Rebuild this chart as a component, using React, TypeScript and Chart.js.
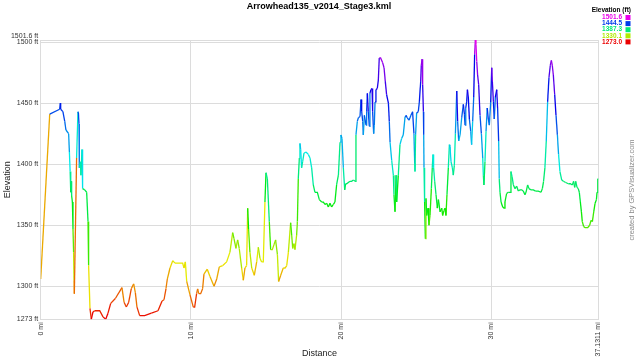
import React, { useEffect, useRef } from "react";
import { Chart, registerables } from "chart.js";

Chart.register(...registerables);

const TITLE = "Arrowhead135_v2014_Stage3.kml";
const CREDIT = "created by GPSVisualizer.com";
const LEGEND_TITLE = "Elevation (ft)";

const distanceMi = [
  0, 0.6, 1.26, 1.31, 1.33, 1.48, 1.6, 1.68, 1.86, 1.91, 1.96, 2.0, 2.04, 2.06, 2.11, 2.15, 2.19, 2.22, 2.24,
  2.39, 2.48, 2.51, 2.55, 2.57, 2.64, 2.68, 2.75, 2.79, 2.93, 3.06, 3.15, 3.19, 3.28, 3.37, 3.48, 3.59, 3.93,
  4.15, 4.33, 4.48, 4.66, 4.97, 5.41, 5.55, 5.7, 5.86, 6.03, 6.19, 6.3, 6.41, 6.59, 6.92, 7.37, 7.81, 8.08,
  8.21, 8.34, 8.43, 8.61, 8.79, 8.94, 9.28, 9.45, 9.54, 9.63, 9.72, 9.94, 10.16, 10.25, 10.38, 10.45, 10.52,
  10.65, 10.78, 10.87, 11.09, 11.27, 11.54, 11.72, 11.89, 12.12, 12.38, 12.6, 12.78, 12.87, 13.0, 13.11, 13.22,
  13.38, 13.49, 13.6, 13.71, 13.78, 13.84, 13.93, 14.05, 14.22, 14.38, 14.49, 14.6, 14.71, 14.82, 14.93, 15.0,
  15.09, 15.22, 15.31, 15.42, 15.53, 15.64, 15.76, 15.84, 15.98, 16.15, 16.27,
  16.38, 16.49, 16.64, 16.71, 16.78, 16.86, 16.93, 17.04, 17.09, 17.15, 17.22, 17.26, 17.31, 17.37, 17.44,
  17.53, 17.66, 17.82, 17.93, 18.04, 18.15, 18.26, 18.42, 18.55, 18.71, 18.82, 18.93, 19.04, 19.15, 19.26,
  19.37, 19.48, 19.59, 19.7, 19.82, 19.93, 19.99, 20.06, 20.15, 20.24, 20.3, 20.37, 20.59, 20.7, 20.82, 20.93,
  20.99, 21.08, 21.15, 21.26, 21.33, 21.37, 21.44, 21.48, 21.55, 21.66, 21.7, 21.75, 21.81, 21.88, 21.92,
  21.99, 22.06, 22.1, 22.17, 22.21, 22.26, 22.32, 22.41, 22.48, 22.54, 22.63, 22.77, 22.86, 22.94, 23.03,
  23.15, 23.21, 23.26, 23.37, 23.48, 23.52, 23.59, 23.66, 23.7, 23.81, 23.92, 24.03, 24.14, 24.26,
  24.32, 24.41, 24.52, 24.65, 24.76, 24.85, 24.9, 24.92, 24.96, 25.03, 25.14, 25.21, 25.3, 25.34, 25.39,
  25.43, 25.48, 25.5, 25.52, 25.56, 25.61, 25.65, 25.7, 25.79, 25.85, 25.92, 26.01, 26.07, 26.12, 26.16,
  26.23, 26.32, 26.41, 26.48, 26.59, 26.7, 26.76, 26.85, 26.92, 26.98, 27.05, 27.14, 27.21, 27.25, 27.32,
  27.41, 27.47, 27.54, 27.61, 27.7, 27.76, 27.83, 27.92, 28.03, 28.14, 28.21, 28.25, 28.3, 28.36, 28.41,
  28.47, 28.54, 28.63, 28.69, 28.76, 28.83, 28.89, 28.94, 28.98, 29.03, 29.09, 29.16, 29.25, 29.34, 29.43,
  29.47, 29.51, 29.58, 29.65, 29.73, 29.8, 29.87, 29.96, 30.03, 30.07, 30.14, 30.2, 30.27, 30.36, 30.42,
  30.49, 30.53, 30.58, 30.65, 30.76, 30.85, 30.91, 31.02, 31.13, 31.25, 31.31, 31.38, 31.47, 31.58, 31.69,
  31.8, 31.91, 32.02, 32.13, 32.24,
  32.31, 32.42, 32.51, 32.64, 32.8, 32.95, 33.13, 33.31, 33.4, 33.48, 33.57, 33.66, 33.75, 33.84, 33.93,
  34.0, 34.06, 34.13, 34.22, 34.31, 34.4, 34.48, 34.57, 34.69, 34.8, 34.95, 35.13, 35.26, 35.4, 35.48, 35.55,
  35.62, 35.71, 35.79, 35.86, 35.93, 36.0, 36.06, 36.15, 36.24, 36.42, 36.55, 36.64, 36.73, 36.82, 36.91,
  37.0, 37.04, 37.09, 37.1311,
];

const elevationFt = [
  1306, 1441, 1445, 1450, 1445, 1443, 1435, 1428, 1425, 1410, 1394, 1377, 1386, 1374, 1369, 1347, 1328, 1305, 1294,
  1405, 1443, 1442, 1433, 1397, 1402, 1391, 1412, 1380, 1379, 1377, 1353, 1317, 1282, 1273, 1279, 1280, 1280,
  1275, 1273, 1278, 1286, 1290, 1299, 1287, 1283, 1287, 1298, 1302, 1295, 1283, 1276, 1276, 1278, 1280, 1288,
  1289, 1298, 1306, 1315, 1321, 1319, 1319, 1319, 1315, 1320, 1304, 1293, 1283, 1283, 1294, 1298, 1294,
  1294, 1298, 1310, 1314, 1308, 1300, 1306, 1316, 1317, 1320, 1328, 1344, 1339, 1331, 1338, 1331,
  1315, 1305, 1315, 1317, 1364, 1347, 1328, 1315, 1309, 1320, 1332, 1323, 1320, 1320, 1369, 1393,
  1388, 1353, 1330, 1330, 1334, 1338, 1326, 1304, 1309, 1315, 1315,
  1317, 1328, 1352, 1342, 1331, 1335, 1330, 1342, 1353, 1388, 1405, 1417, 1412, 1397, 1402,
  1409, 1410, 1408, 1405, 1397, 1383, 1377, 1377, 1371, 1369, 1369, 1367, 1368, 1365, 1368,
  1365, 1367, 1369, 1383, 1391, 1418, 1424, 1421, 1397, 1379, 1384, 1384, 1386, 1386, 1387, 1386,
  1424, 1435, 1438, 1439, 1453, 1443, 1435, 1424, 1440, 1432, 1443, 1458, 1443, 1431, 1458,
  1461, 1462, 1443, 1425, 1432, 1451, 1461, 1462, 1469, 1487, 1487, 1483, 1479, 1468, 1457,
  1450, 1435, 1418, 1403, 1391, 1375, 1361, 1391, 1369, 1391, 1416, 1421, 1424, 1439,
  1440, 1438, 1436, 1440, 1443, 1425, 1401, 1394, 1424, 1442, 1443, 1451, 1468, 1481, 1486,
  1465, 1443, 1424, 1397, 1369, 1339, 1372, 1358, 1364, 1350, 1358, 1380, 1397, 1408, 1397,
  1386, 1375, 1364, 1371, 1361, 1364, 1358, 1362, 1364, 1358, 1375, 1397, 1416, 1414, 1402,
  1397, 1391, 1399, 1425, 1460, 1435, 1419, 1424, 1438, 1449, 1441, 1432, 1446, 1451, 1461,
  1455, 1437, 1427, 1416, 1435, 1455, 1490, 1501.6, 1498, 1484, 1473, 1465, 1440, 1425, 1405,
  1391, 1383, 1402, 1427, 1446, 1437, 1432, 1451, 1479, 1468, 1451, 1437, 1455, 1461, 1446,
  1419, 1388, 1377, 1369, 1365, 1364, 1369, 1376, 1377, 1377, 1394, 1390, 1383, 1380, 1382,
  1378, 1379, 1379, 1378, 1375,
  1377, 1383, 1380, 1379, 1379, 1378, 1378, 1377, 1380, 1386, 1397, 1419, 1451, 1471, 1481,
  1485, 1481, 1473, 1457, 1440, 1424, 1408, 1394, 1387, 1386, 1385, 1384, 1384, 1383, 1386, 1381,
  1386, 1381, 1380, 1377, 1369, 1361, 1353, 1349, 1348, 1348, 1350, 1354, 1353, 1361, 1368,
  1371, 1377, 1388, 1388,
];

const yTickValues = [1273, 1300, 1350, 1400, 1450, 1500, 1501.6];
const xTickValues = [0, 10, 20, 30, 37.1311];
const legendValues = ["1501.6", "1444.5", "1387.3", "1330.1", "1273.0"];

const MIN_E = 1273;
const MAX_E = 1501.6;

function elevColor(e: number): string {
  let t = (e - MIN_E) / (MAX_E - MIN_E);
  t = Math.max(0, Math.min(1, t));
  const hue = 300 * t;
  return `hsl(${hue.toFixed(1)}, 100%, 46%)`;
}

const overlayPlugin = {
  id: "overlay",
  afterDraw(chart: any) {
    const ctx = chart.ctx as CanvasRenderingContext2D;
    ctx.save();
    ctx.fillStyle = "#000";
    ctx.font = "bold 9px 'Liberation Sans', Arial, sans-serif";
    ctx.textAlign = "center";
    ctx.textBaseline = "middle";
    ctx.fillText(TITLE, 319, 7);

    ctx.font = "bold 6.5px 'Liberation Sans', Arial, sans-serif";
    ctx.textAlign = "right";
    ctx.fillStyle = "#000";
    ctx.fillText(LEGEND_TITLE, 631, 10);
    legendValues.forEach((v, i) => {
      const y = 17.5 + i * 6.1;
      const c = elevColor(parseFloat(v));
      ctx.fillStyle = c;
      ctx.fillText(v, 622, y);
      ctx.fillRect(625.5, y - 2.5, 5, 5);
    });

    ctx.translate(632, 190);
    ctx.rotate(-Math.PI / 2);
    ctx.font = "7.5px 'Liberation Sans', Arial, sans-serif";
    ctx.fillStyle = "#8a8a8a";
    ctx.textAlign = "center";
    ctx.fillText(CREDIT, 0, 0);
    ctx.restore();
  },
};

export default function App() {
  const canvasRef = useRef<HTMLCanvasElement | null>(null);

  useEffect(() => {
    const canvas = canvasRef.current;
    if (!canvas) return;
    const points = distanceMi.map((d, i) => ({ x: d, y: elevationFt[i] }));
    const gridColor = "#dcdcdc";
    const tickFont = { family: "'Liberation Sans', Arial, sans-serif", size: 7 };

    const chart = new Chart(canvas, {
      type: "line",
      data: {
        datasets: [
          {
            label: "Elevation",
            data: points,
            borderWidth: 1.3,
            pointRadius: 0,
            tension: 0,
            fill: false,
            borderColor: "#00c",
            segment: {
              borderColor: (c: any) => elevColor(c.p0.parsed.y),
            },
          },
        ],
      },
      options: {
        animation: false,
        responsive: false,
        devicePixelRatio: 1,
        layout: { padding: { top: 40.1, right: 40.6, left: 0, bottom: 0 } },
        plugins: {
          legend: { display: false },
          title: { display: false },
          tooltip: { enabled: false },
        },
        scales: {
          x: {
            type: "linear",
            min: 0,
            max: 37.1311,
            afterBuildTicks: (scale: any) => {
              scale.ticks = xTickValues.map((v) => ({ value: v }));
            },
            afterFit: (scale: any) => {
              scale.height = 40.7;
            },
            ticks: {
              autoSkip: false,
              maxRotation: 90,
              minRotation: 90,
              padding: 3,
              color: "#333",
              font: tickFont,
              callback: (v: any) => `${v} mi`,
            },
            grid: { color: gridColor, drawTicks: false, lineWidth: 1 },
            border: { color: gridColor },
            title: {
              display: true,
              text: "Distance",
              color: "#222",
              font: { family: "'Liberation Sans', Arial, sans-serif", size: 9 },
              padding: { top: 0, bottom: 0.6 },
            },
          },
          y: {
            type: "linear",
            min: MIN_E,
            max: MAX_E,
            afterBuildTicks: (scale: any) => {
              scale.ticks = yTickValues.map((v) => ({ value: v }));
            },
            afterFit: (scale: any) => {
              scale.width = 40.7;
            },
            ticks: {
              autoSkip: false,
              padding: 2.5,
              color: "#333",
              font: tickFont,
              callback: (v: any) => (v === 1501.6 ? ["1501.6 ft", ""] : `${v} ft`),
            },
            grid: { color: gridColor, drawTicks: false, lineWidth: 1 },
            border: { color: gridColor },
            title: {
              display: true,
              text: "Elevation",
              color: "#222",
              font: { family: "'Liberation Sans', Arial, sans-serif", size: 9 },
              padding: { top: 2.6, bottom: 0 },
            },
          },
        },
      },
      plugins: [overlayPlugin],
    } as any);
    return () => chart.destroy();
  }, []);

  return (
    <div style={{ position: "absolute", left: 0, top: 0, width: 639, height: 360, background: "#fff" }}>
      <canvas ref={canvasRef} width={639} height={360} style={{ display: "block" }} />
    </div>
  );
}
